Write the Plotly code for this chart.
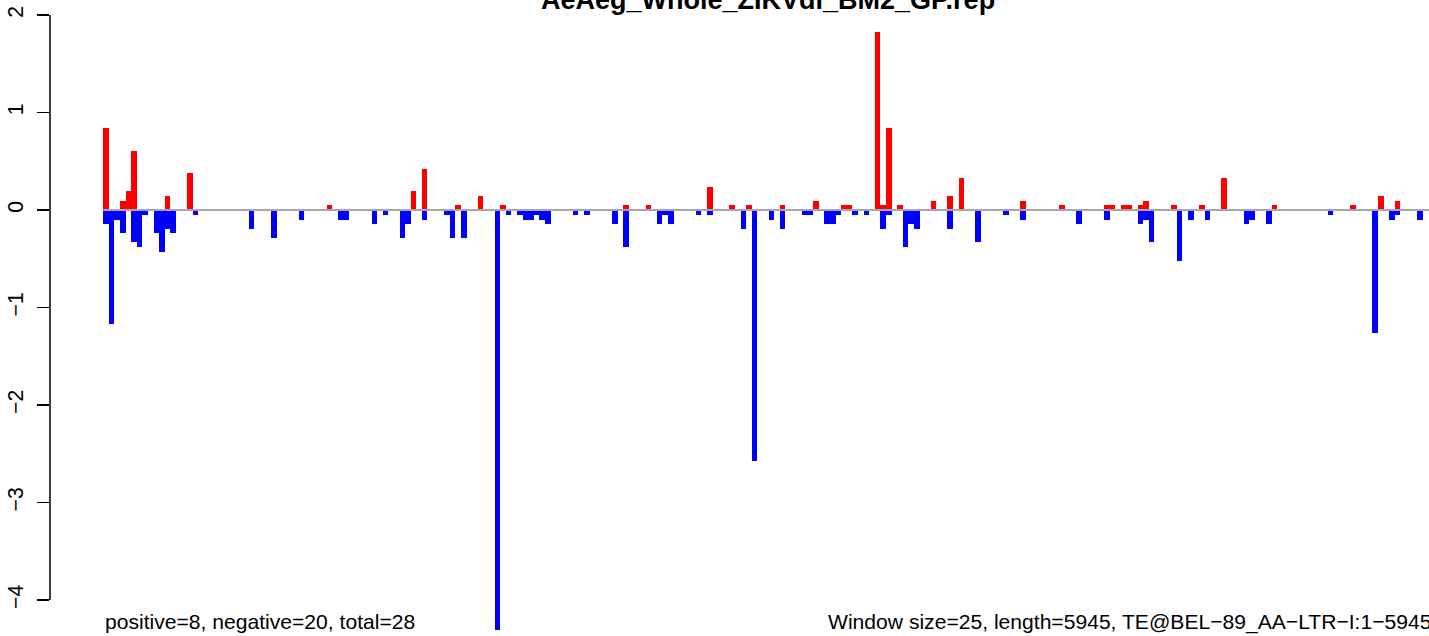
import plotly.graph_objects as go

# ---- data (window index, value) ----
window_size = 25
seq_length = 5945

pos_windows = [0, 3, 4, 5, 11, 15, 40, 55, 57, 63, 67, 71, 93, 97, 108, 112, 115, 121,
               127, 132, 133, 138, 139, 140, 142, 148, 151, 153, 164, 171, 179, 180,
               182, 183, 185, 186, 191, 196, 200, 209, 223, 228, 231]
pos_values = [0.84, 0.09, 0.19, 0.61, 0.14, 0.38, 0.05, 0.19, 0.42, 0.05, 0.14, 0.05,
              0.05, 0.05, 0.24, 0.05, 0.05, 0.05, 0.09, 0.05, 0.05, 1.83, 0.05, 0.84,
              0.05, 0.09, 0.14, 0.33, 0.09, 0.05, 0.05, 0.05, 0.05, 0.05, 0.05, 0.09,
              0.05, 0.05, 0.33, 0.05, 0.05, 0.14, 0.09]

neg_windows = [0, 1, 2, 3, 5, 6, 7, 9, 10, 11, 12, 16, 26, 30, 35, 42, 43, 48, 50, 53,
               54, 57, 61, 62, 64, 70, 72, 74, 75, 76, 77, 78, 79, 84, 86, 91, 93, 99,
               100, 101, 106, 108, 114, 116, 119, 121, 125, 126, 129, 130, 131, 134,
               136, 139, 140, 143, 144, 145, 151, 156, 161, 164, 174, 179, 185, 186,
               187, 192, 194, 197, 204, 205, 208, 219, 227, 230, 231, 235]
neg_values = [-0.14, -1.17, -0.10, -0.24, -0.33, -0.38, -0.05, -0.24, -0.43, -0.19,
              -0.24, -0.05, -0.19, -0.29, -0.10, -0.10, -0.10, -0.14, -0.05, -0.29,
              -0.14, -0.10, -0.05, -0.29, -0.29, -4.31, -0.05, -0.05, -0.10, -0.10,
              -0.05, -0.10, -0.14, -0.05, -0.05, -0.14, -0.38, -0.14, -0.05, -0.14,
              -0.05, -0.05, -0.19, -2.57, -0.10, -0.19, -0.05, -0.05, -0.14, -0.14,
              -0.05, -0.05, -0.05, -0.19, -0.05, -0.38, -0.14, -0.19, -0.19, -0.33,
              -0.05, -0.10, -0.14, -0.10, -0.14, -0.10, -0.33, -0.52, -0.10, -0.10,
              -0.14, -0.10, -0.14, -0.05, -1.26, -0.10, -0.05, -0.10]

y_ticks = [-4, -3, -2, -1, 0, 1, 2]
y_tick_text = ["\u22124", "\u22123", "\u22122", "\u22121", "0", "1", "2"]

title_text = "AeAeg_Whole_ZIKVdi_BM2_GP.rep"
left_note = "positive=8, negative=20, total=28"
right_note = "Window size=25, length=5945, TE@BEL\u221289_AA\u2212LTR\u2212I:1\u22125945"

FONT = "Liberation Sans, Arial, Helvetica, sans-serif"

W, H = 1429, 636
ML = 50
PW = W - ML

fig = go.Figure()
fig.add_trace(go.Bar(
    x=[i * window_size + window_size / 2 for i in pos_windows], y=pos_values,
    width=window_size, marker=dict(color="#FF0000", line=dict(width=0)),
    hoverinfo="skip", showlegend=False))
fig.add_trace(go.Bar(
    x=[i * window_size + window_size / 2 for i in neg_windows], y=neg_values,
    width=window_size, marker=dict(color="#0000FF", line=dict(width=0)),
    hoverinfo="skip", showlegend=False))

# R-style x extension (4%) around 0..seq_length, plot region wider than the image
ext = 0.04 * seq_length
x_per_px = (seq_length + 2 * ext) / 1436.0
x_lo = -ext
x_hi = x_lo + PW * x_per_px

y_per_px = 1 / 97.5
y_hi = 210 * y_per_px
y_lo = -(H - 210) * y_per_px

fig.update_layout(
    width=W, height=H,
    margin=dict(l=ML, r=0, t=0, b=0),
    paper_bgcolor="white", plot_bgcolor="white",
    barmode="overlay", bargap=0,
    font=dict(family=FONT, color="black"),
    xaxis=dict(range=[x_lo, x_hi], visible=False, fixedrange=True),
    yaxis=dict(range=[y_lo, y_hi], tickvals=y_ticks, ticktext=y_tick_text,
               tickangle=-90, ticks="outside", ticklen=12, tickwidth=1.5,
               tickcolor="black", showline=False, showgrid=False, zeroline=False,
               ticklabelstandoff=6,
               tickfont=dict(size=21.2, color="black", family=FONT)),
    shapes=[
        dict(type="line", xref="paper", yref="y", x0=0, x1=0, y0=-4, y1=2,
             line=dict(color="black", width=1.5)),
        dict(type="line", xref="x", yref="y", x0=0, x1=seq_length, y0=0, y1=0,
             line=dict(color="#A8A8A8", width=2), layer="above"),
    ],
    annotations=[
        dict(text="<b>" + title_text + "</b>", xref="paper", yref="paper",
             x=(768 - ML) / PW, y=1 + 0.5 / H, xanchor="center", yanchor="middle",
             showarrow=False, font=dict(size=27, family=FONT, color="black")),
        dict(text=left_note, xref="paper", yref="paper",
             x=(103.2 - ML) / PW, y=(H - 621.5) / H, xanchor="left", yanchor="middle",
             showarrow=False, font=dict(size=21.1, family=FONT, color="black")),
        dict(text=right_note, xref="paper", yref="paper",
             x=(1433 - ML) / PW, y=(H - 621.5) / H, xanchor="right", yanchor="middle",
             showarrow=False, font=dict(size=21.1, family=FONT, color="black")),
    ],
)

fig.write_html(
    "out.html",
    config={"displayModeBar": False, "staticPlot": True},
    post_script="document.body.style.margin='0';document.body.style.padding='0';"
                "document.body.style.overflow='hidden';",
)
